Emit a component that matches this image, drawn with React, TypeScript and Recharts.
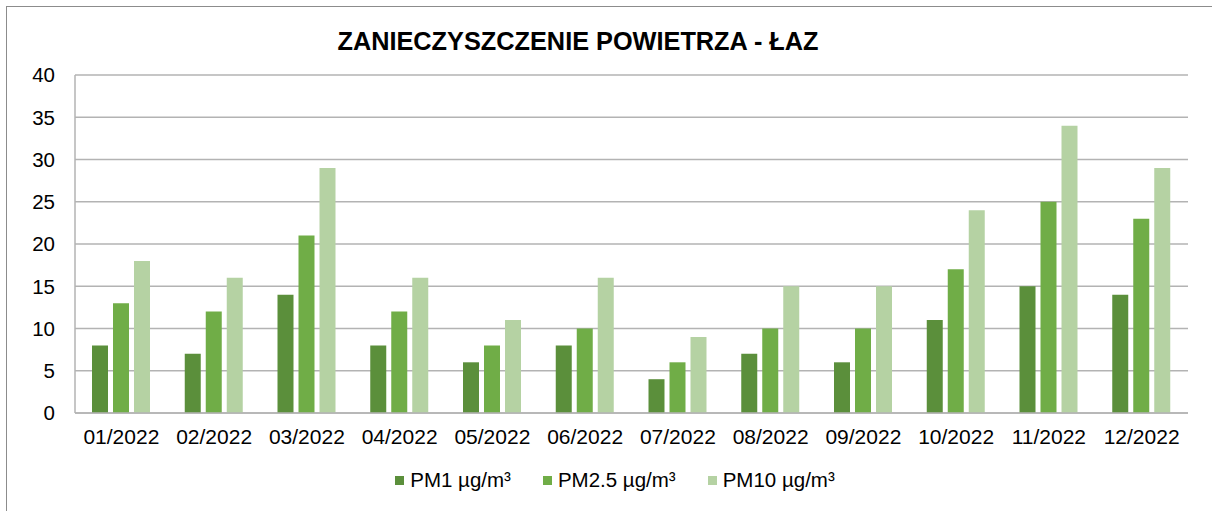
import { BarChart, Bar, XAxis, YAxis, CartesianGrid } from "recharts";

const months = ["01/2022", "02/2022", "03/2022", "04/2022", "05/2022", "06/2022", "07/2022", "08/2022", "09/2022", "10/2022", "11/2022", "12/2022"];
const pm1 = [8, 7, 14, 8, 6, 8, 4, 7, 6, 11, 15, 14];
const pm25 = [13, 12, 21, 12, 8, 10, 6, 10, 10, 17, 25, 23];
const pm10 = [18, 16, 29, 16, 11, 16, 9, 15, 15, 24, 34, 29];
const yTicks = [0, 5, 10, 15, 20, 25, 30, 35, 40];

const SERIES = [
  { key: "pm1", name: "PM1 µg/m³", color: "#5b8f3b" },
  { key: "pm25", name: "PM2.5 µg/m³", color: "#70ad47" },
  { key: "pm10", name: "PM10 µg/m³", color: "#b5d2a3" },
];

const data = months.map((m, i) => ({ month: m, pm1: pm1[i], pm25: pm25[i], pm10: pm10[i] }));

const FONT = "'Liberation Sans', Arial, sans-serif";

function ChartLegend() {
  return (
    <div style={{ position: "absolute", left: 0, top: 468, width: 1230, display: "flex", justifyContent: "center", fontFamily: FONT, fontSize: 20.5, lineHeight: "24px", color: "#000" }}>
      {SERIES.map((s, i) => (
        <div key={s.key} style={{ display: "flex", alignItems: "center", marginLeft: i ? 32 : 0 }}>
          <span style={{ width: 9, height: 9, background: s.color, display: "inline-block", marginRight: 6 }} />
          <span>{s.name}</span>
        </div>
      ))}
    </div>
  );
}

export default function App() {
  return (
    <div style={{ position: "absolute", left: 0, top: 0, width: 1212, height: 511, background: "#fff", overflow: "hidden" }}>
      <div style={{ position: "absolute", left: 6, top: 6, width: 1220, height: 520, border: "1px solid #8c8c8c" }} />
      <div style={{ position: "absolute", left: 0, top: 27, width: 1156, textAlign: "center", fontFamily: FONT, fontWeight: "bold", fontSize: 25.3, color: "#000" }}>
        ZANIECZYSZCZENIE POWIETRZA - ŁAZ
      </div>
      <div style={{ position: "absolute", left: 0, top: 0 }}>
        <BarChart width={1212} height={511} data={data} margin={{ top: 75, right: 24, bottom: 68, left: 0 }} barGap={5} barSize={16}>
          <CartesianGrid vertical={false} stroke="#b3b3b3" strokeWidth={1.5} />
          <XAxis dataKey="month" stroke="#b3b3b3" strokeWidth={1.5} tickLine={false} tickSize={0} tickMargin={16} height={30}
            tick={{ fill: "#000", fontSize: 21, fontFamily: FONT }} interval={0} />
          <YAxis domain={[0, 40]} ticks={yTicks} width={75} stroke="#b3b3b3" strokeWidth={1.5} tickLine={false} tickSize={0} tickMargin={20}
            tick={{ fill: "#000", fontSize: 20.5, fontFamily: FONT }} interval={0} />
          {SERIES.map((s) => (
            <Bar key={s.key} dataKey={s.key} name={s.name} fill={s.color} isAnimationActive={false} />
          ))}
        </BarChart>
      </div>
      <ChartLegend />
    </div>
  );
}
